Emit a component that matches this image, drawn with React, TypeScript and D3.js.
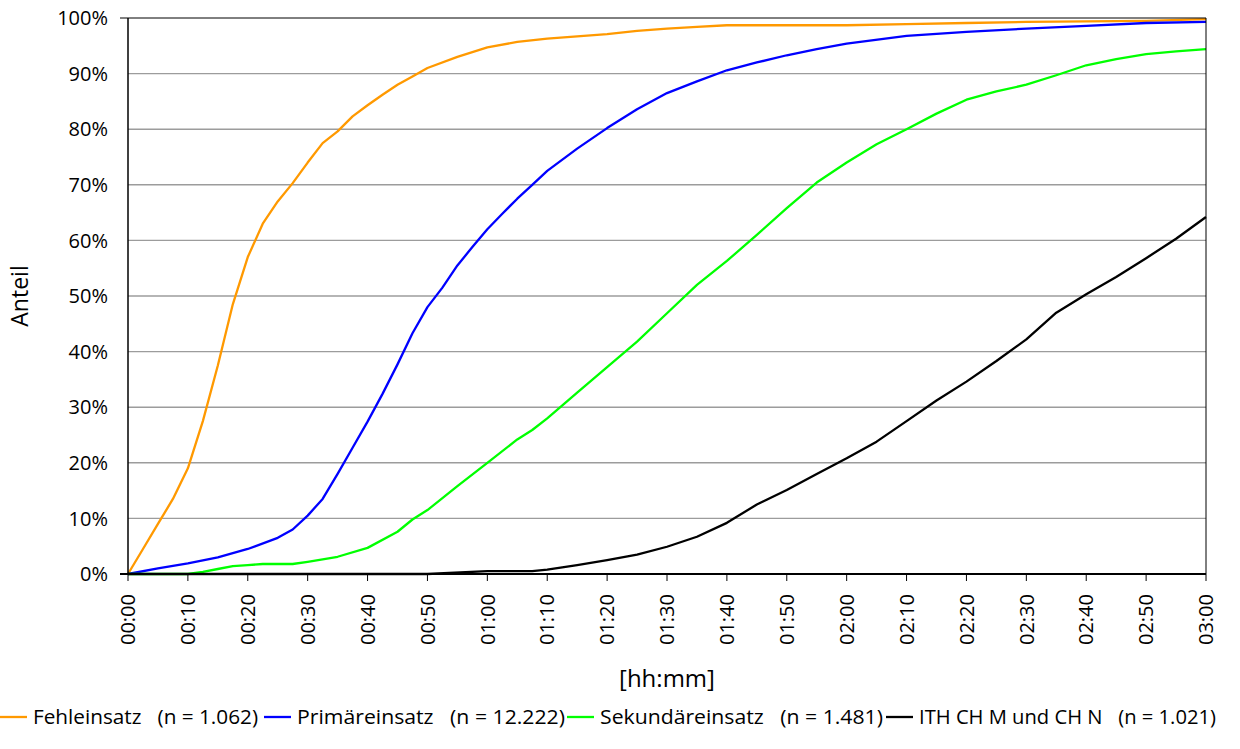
import React from "react";
import * as d3 from "d3";

const xTickMinutes = [0, 10, 20, 30, 40, 50, 60, 70, 80, 90, 100, 110, 120, 130, 140, 150, 160, 170, 180];
const xTickLabels = ["00:00", "00:10", "00:20", "00:30", "00:40", "00:50", "01:00", "01:10", "01:20", "01:30", "01:40", "01:50", "02:00", "02:10", "02:20", "02:30", "02:40", "02:50", "03:00"];
const yTicks = [0, 10, 20, 30, 40, 50, 60, 70, 80, 90, 100];

const fehlT = [0, 2.5, 5, 7.5, 10, 12.5, 15, 17.5, 20, 22.5, 25, 27.5, 30, 32.5, 35, 37.5, 40, 42.5, 45, 47.5, 50, 55, 60, 65, 70, 75, 80, 85, 90, 95, 100, 110, 120, 130, 140, 150, 160, 170, 180];
const fehlV = [0, 4.5, 9, 13.5, 19, 27.5, 37.5, 48.5, 57, 63, 67, 70.3, 74, 77.5, 79.6, 82.3, 84.3, 86.2, 88, 89.5, 91, 93, 94.7, 95.7, 96.3, 96.7, 97.1, 97.7, 98.1, 98.4, 98.7, 98.7, 98.7, 98.9, 99.1, 99.3, 99.4, 99.5, 99.8];

const primT = [0, 5, 10, 15, 20, 25, 27.5, 30, 32.5, 35, 37.5, 40, 42.5, 45, 47.5, 50, 52.5, 55, 57.5, 60, 62.5, 65, 67.5, 70, 75, 80, 85, 90, 95, 100, 105, 110, 115, 120, 130, 140, 150, 160, 170, 180];
const primV = [0, 1, 1.9, 3, 4.5, 6.5, 8, 10.5, 13.5, 18, 22.7, 27.4, 32.4, 37.7, 43.3, 48, 51.5, 55.5, 58.8, 62, 64.8, 67.5, 70, 72.5, 76.5, 80.2, 83.6, 86.5, 88.6, 90.6, 92, 93.3, 94.4, 95.4, 96.8, 97.5, 98.1, 98.6, 99.1, 99.3];

const sekT = [0, 10, 12.5, 15, 17.5, 20, 22.5, 25, 27.5, 30, 35, 40, 45, 47.5, 50, 55, 60, 65, 67.5, 70, 75, 80, 85, 90, 95, 100, 105, 110, 115, 120, 125, 130, 135, 140, 145, 150, 155, 160, 165, 170, 175, 180];
const sekV = [0, 0, 0.4, 0.9, 1.4, 1.6, 1.8, 1.8, 1.8, 2.2, 3.1, 4.7, 7.6, 9.8, 11.5, 15.8, 20, 24.2, 25.9, 28, 32.6, 37.2, 41.8, 46.9, 52, 56.3, 61, 65.8, 70.4, 74, 77.3, 80, 82.8, 85.3, 86.8, 88, 89.7, 91.5, 92.6, 93.5, 94, 94.4];

const ithT = [0, 50, 60, 67.5, 70, 75, 80, 85, 90, 95, 100, 105, 110, 115, 120, 125, 130, 135, 140, 145, 150, 155, 160, 165, 170, 175, 180];
const ithV = [0, 0, 0.5, 0.5, 0.8, 1.6, 2.5, 3.5, 4.9, 6.7, 9.2, 12.5, 15.1, 18, 20.8, 23.8, 27.5, 31.2, 34.6, 38.3, 42.2, 47, 50.3, 53.4, 56.8, 60.3, 64.2];

const seriesNames = ["Fehleinsatz   (n = 1.062)", "Primäreinsatz   (n = 12.222)", "Sekundäreinsatz   (n = 1.481)", "ITH CH M und CH N   (n = 1.021)"];
const seriesColors = ["#FF9900", "#0000FF", "#00FF00", "#000000"];

const W = 1240, H = 749;
const X0 = 128, X1 = 1206, Y0 = 574, Y1 = 18;
const FONT = "'Open Sans', 'Noto Sans', sans-serif";

export default function App() {
  const x = d3.scaleLinear().domain([0, 180]).range([X0, X1]);
  const y = d3.scaleLinear().domain([0, 100]).range([Y0, Y1]);
  const line = d3.line<[number, number]>().x(d => x(d[0])).y(d => y(d[1]));
  const series = [
    { t: fehlT, v: fehlV },
    { t: primT, v: primV },
    { t: sekT, v: sekV },
    { t: ithT, v: ithV },
  ];
  const legendX = [0, 264, 567, 886];
  const legendTextW = [225, 268, 283, 297];
  const legendY = 717;

  return (
    <svg width={W} height={H} style={{ position: "absolute", left: 0, top: 0, background: "#fff" }} fontFamily={FONT}>
      <rect x={0} y={0} width={W} height={H} fill="#fff" />
      {yTicks.filter(v => v > 0 && v < 100).map(v => (
        <line key={v} x1={X0} x2={X1} y1={y(v)} y2={y(v)} stroke="#9c9c9c" strokeWidth={1.4} />
      ))}
      {series.map((s, i) => (
        <path key={i} d={line(s.t.map((t, j) => [t, s.v[j]] as [number, number])) || ""} fill="none" stroke={seriesColors[i]} strokeWidth={2.3} strokeLinejoin="round" />
      ))}
      <line x1={X0} x2={X1} y1={Y1} y2={Y1} stroke="#000" strokeWidth={1} />
      <line x1={X1} x2={X1} y1={Y1} y2={Y0} stroke="#000" strokeWidth={1} />
      <line x1={X0} x2={X0} y1={Y1} y2={Y0} stroke="#000" strokeWidth={1.5} />
      <line x1={120} x2={X1} y1={Y0} y2={Y0} stroke="#000" strokeWidth={2} />
      <line x1={120} x2={X0} y1={Y1} y2={Y1} stroke="#000" strokeWidth={1} />
      {xTickMinutes.map((m, i) => (
        <g key={m}>
          <line x1={x(m)} x2={x(m)} y1={Y0} y2={Y0 + 7} stroke="#000" strokeWidth={1} />
          <text transform={`translate(${x(m)},594) rotate(-90)`} textAnchor="end" dy="0.36em" fontSize={20} fill="#000">{xTickLabels[i]}</text>
        </g>
      ))}
      {yTicks.map(v => (
        <text key={v} x={108} y={y(v)} dy="0.36em" textAnchor="end" fontSize={20} fill="#000">{v}%</text>
      ))}
      <text transform={`translate(28,296) rotate(-90)`} textAnchor="middle" fontSize={23} fill="#000">Anteil</text>
      <text x={667} y={687} textAnchor="middle" fontSize={24} fill="#000">[hh:mm]</text>
      {seriesNames.map((n, i) => (
        <g key={n}>
          <line x1={legendX[i]} x2={legendX[i] + 27} y1={legendY} y2={legendY} stroke={seriesColors[i]} strokeWidth={2.3} />
          <text x={legendX[i] + 33} y={legendY} dy="0.36em" fontSize={20} fill="#000" style={{ whiteSpace: "pre" }} textLength={legendTextW[i]} lengthAdjust="spacingAndGlyphs">{n}</text>
        </g>
      ))}
    </svg>
  );
}
